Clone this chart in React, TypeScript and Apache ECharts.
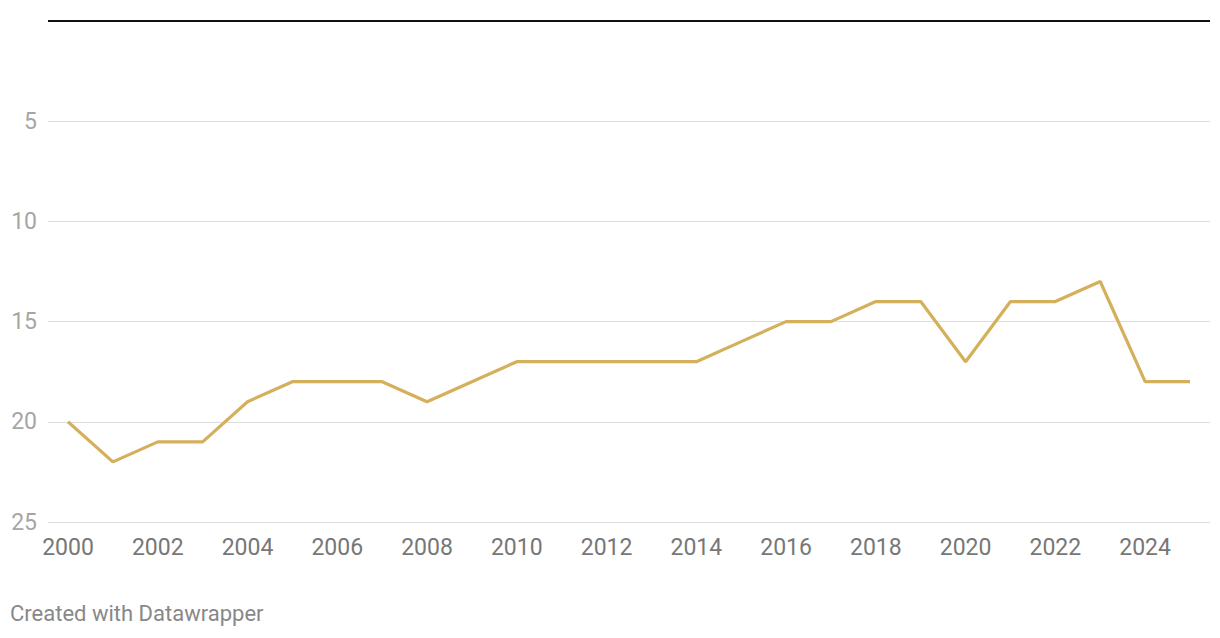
import React, { useEffect, useRef } from "react";
import * as echarts from "echarts";

const years = [2000, 2001, 2002, 2003, 2004, 2005, 2006, 2007, 2008, 2009, 2010, 2011, 2012, 2013, 2014, 2015, 2016, 2017, 2018, 2019, 2020, 2021, 2022, 2023, 2024, 2025];
const values = [20, 22, 21, 21, 19, 18, 18, 18, 19, 18, 17, 17, 17, 17, 17, 16, 15, 15, 14, 14, 17, 14, 14, 13, 18, 18];
const xTicks = [2000, 2002, 2004, 2006, 2008, 2010, 2012, 2014, 2016, 2018, 2020, 2022, 2024];
const yTicks = [0, 5, 10, 15, 20, 25];

export default function App() {
  const ref = useRef<HTMLDivElement>(null);
  useEffect(() => {
    document.body.style.margin = "0";
    if (!ref.current) return;
    const chart = echarts.init(ref.current, undefined, { renderer: "svg" });
    const pad = 20 * 25 / 1122;
    chart.setOption({
      animation: false,
      textStyle: { fontFamily: "Roboto" },
      grid: { left: 48, right: 10, top: 21, bottom: 116, containLabel: false },
      xAxis: {
        type: "value",
        min: years[0] - pad,
        max: years[years.length - 1] + pad,
        axisLine: { show: false, onZero: false },
        axisTick: { show: false },
        splitLine: { show: false },
        axisLabel: {
          customValues: xTicks,
          color: "#777777",
          fontSize: 23,
          margin: 14,
          fontFamily: "Roboto",
          formatter: (v: number) => String(Math.round(v)),
        },
      },
      yAxis: {
        type: "value",
        inverse: true,
        min: yTicks[0],
        max: yTicks[yTicks.length - 1],
        interval: 5,
        axisLine: { show: false },
        axisTick: { show: false },
        splitLine: { lineStyle: { color: "#dedede", width: 1 } },
        axisLabel: {
          color: "#a6a6a6",
          fontSize: 23,
          margin: 11,
          fontFamily: "Roboto",
          formatter: (v: number) => (v === 0 ? "" : String(v)),
        },
      },
      series: [
        {
          type: "line",
          data: years.map((y, i) => [y, values[i]]),
          symbol: "none",
          lineStyle: { color: "#d4b05c", width: 3.2 },
          markLine: {
            silent: true,
            symbol: "none",
            label: { show: false },
            lineStyle: { color: "#111111", width: 2, type: "solid" },
            data: [{ yAxis: 0 }],
          },
        },
      ],
      graphic: [
        {
          type: "text",
          left: 10,
          top: 602,
          style: {
            text: "Created with Datawrapper",
            fill: "#888888",
            fontSize: 22,
            fontFamily: "Roboto",
          },
        },
      ],
    });
    return () => chart.dispose();
  }, []);
  return <div ref={ref} style={{ width: 1220, height: 638 }} />;
}
